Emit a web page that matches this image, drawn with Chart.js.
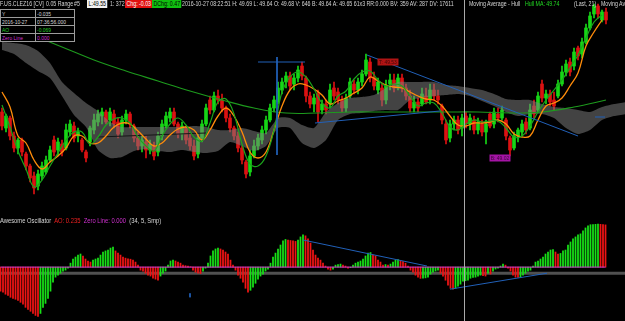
<!DOCTYPE html>
<html>
<head>
<meta charset="utf-8">
<script src="https://cdn.jsdelivr.net/npm/chart.js@4.4.1/dist/chart.umd.min.js"></script>
<style>
html, body { margin:0; padding:0; background:#000; width:625px; height:321px; overflow:hidden; }
#wrap { position:relative; width:625px; height:321px; font-family:"Liberation Sans", Arial, sans-serif; color:#d6d6d6; }
#price { position:absolute; left:0; top:0; }
#ao { position:absolute; left:0; top:215px; }
.t { position:absolute; top:0; white-space:nowrap; font-size:7px; line-height:8px; transform:scaleX(.75); transform-origin:0 0; }
.box { padding:0 2px; }
#cursor { position:absolute; left:464px; top:0; width:1px; height:321px; background:#a9a9a9; }
#info { position:absolute; left:0; top:9px; border-collapse:collapse; background:#000; }
#info td { border:1px solid #9c9c9c; height:7px; padding:0 1px; font-size:6.2px; line-height:7px; overflow:hidden; white-space:nowrap; }
#info td span { display:inline-block; transform:scaleX(.8); transform-origin:0 0; }
#aolabel { position:absolute; top:217px; left:0; white-space:nowrap; font-size:7.1px; line-height:8px; transform:scaleX(.82); transform-origin:0 0; }
</style>
</head>
<body>
<div id="wrap">
  <canvas id="price" width="625" height="215"></canvas>
  <canvas id="ao" width="625" height="106"></canvas>
  <div id="cursor"></div>

  <div class="t" style="left:0">F.US.CLEZ16 [CV]</div>
  <div class="t" style="left:46px">0.05 Range</div>
  <div class="t" style="left:74px">#5</div>
  <div class="t box" style="left:87px;background:#f2f2f2;color:#000">L:49.55</div>
  <div class="t" style="left:110px">1: 372</div>
  <div class="t box" style="left:125px;background:#e01010;color:#fff">Chg: -0.03</div>
  <div class="t box" style="left:152px;background:#10c010;color:#000">DChg: 0.47</div>
  <div class="t" style="left:182px">2016-10-27 08:22:51 H: 49.69 L: 49.64 O: 49.68 V: 646 B: 49.64 A: 49.65 61x3 RR:0.000 BV: 359 AV: 287 DV: 17611</div>
  <div class="t" style="left:469px">Moving Average - Hull</div>
  <div class="t" style="left:525px;color:#22dd22">Hull MA: 49.74</div>
  <div class="t" style="left:574px">(Last, 21)</div>
  <div class="t" style="left:601px">Moving Average</div>

  <table id="info">
    <tr><td style="width:24px"><span>Y</span></td><td style="width:27px"><span>-0.035</span></td></tr>
    <tr><td><span>2016-10-27</span></td><td><span>07:36:56.000</span></td></tr>
    <tr><td style="color:#22cc22"><span>AO</span></td><td style="color:#22cc22"><span>-0.069</span></td></tr>
    <tr><td style="color:#d030d0"><span>Zero Line</span></td><td style="color:#d030d0"><span>0.000</span></td></tr>
  </table>

  <div id="aolabel">Awesome Oscillator&nbsp; <span style="color:#ee2020">AO: 0.235</span>&nbsp; <span style="color:#d030d0">Zero Line: 0.000</span>&nbsp; (34, 5, Smp)</div>
</div>

<script>
// candles, one per 0.05 range bar
const candleOpen = [
  49.24,49.16,49.21,49.12,49.06,49.10,49.03,48.97,48.92,48.87,
  48.92,48.94,49.00,49.10,49.05,49.08,49.06,49.14,49.17,49.12,
  49.10,49.04,49.09,49.15,49.19,49.22,49.24,49.20,49.23,49.19,
  49.14,49.20,49.23,49.17,49.11,49.07,49.09,49.05,49.07,49.04,
  49.12,49.17,49.21,49.24,49.18,49.13,49.16,49.11,49.07,49.03,
  49.11,49.18,49.30,49.25,49.32,49.30,49.26,49.21,49.16,49.12,
  49.06,48.99,48.94,49.02,49.07,49.10,49.15,49.20,49.26,49.29,
  49.35,49.39,49.42,49.38,49.41,49.47,49.41,49.32,49.28,49.33,
  49.25,49.28,49.28,49.36,49.34,49.30,49.26,49.32,49.38,49.35,
  49.39,49.43,49.49,49.41,49.35,49.36,49.30,49.38,49.40,49.36,
  49.41,49.36,49.32,49.26,49.29,49.28,49.32,49.30,49.35,49.32,
  49.27,49.18,49.11,49.18,49.20,49.16,49.22,49.18,49.20,49.15,
  49.18,49.14,49.23,49.18,49.23,49.21,49.20,49.11,49.06,49.12,
  49.14,49.19,49.16,49.27,49.25,49.38,49.31,49.33,49.30,49.32,
  49.38,49.44,49.49,49.47,49.56,49.53,49.59,49.66,49.73,49.77,
  49.70,49.74
];
const candleHigh = [
  49.26,49.23,49.22,49.14,49.11,49.11,49.04,48.98,48.94,48.95,
  48.99,49.02,49.07,49.12,49.11,49.10,49.18,49.20,49.19,49.16,
  49.11,49.05,49.17,49.23,49.25,49.26,49.25,49.26,49.25,49.21,
  49.22,49.25,49.24,49.18,49.14,49.12,49.12,49.10,49.09,49.14,
  49.20,49.24,49.26,49.26,49.19,49.19,49.17,49.14,49.10,49.13,
  49.20,49.28,49.32,49.34,49.35,49.33,49.27,49.23,49.17,49.14,
  49.07,49.00,49.05,49.10,49.13,49.17,49.22,49.28,49.32,49.39,
  49.41,49.44,49.44,49.43,49.47,49.49,49.42,49.34,49.33,49.35,
  49.30,49.30,49.38,49.39,49.36,49.32,49.33,49.41,49.40,49.41,
  49.45,49.53,49.51,49.44,49.41,49.38,49.40,49.43,49.43,49.43,
  49.43,49.38,49.35,49.32,49.31,49.36,49.36,49.38,49.38,49.35,
  49.28,49.20,49.20,49.22,49.22,49.23,49.24,49.23,49.22,49.21,
  49.20,49.20,49.24,49.26,49.26,49.27,49.21,49.12,49.14,49.16,
  49.20,49.21,49.28,49.30,49.34,49.40,49.35,49.35,49.34,49.40,
  49.47,49.50,49.51,49.56,49.57,49.61,49.68,49.74,49.78,49.78,
  49.75,49.76
];
const candleLow = [
  49.15,49.14,49.10,49.04,49.03,49.02,48.95,48.89,48.83,48.85,
  48.90,48.93,48.99,49.02,49.02,49.02,49.05,49.12,49.09,49.09,
  49.04,48.99,49.07,49.13,49.17,49.18,49.18,49.17,49.16,49.11,
  49.12,49.18,49.16,49.09,49.05,49.04,49.01,49.03,49.00,49.02,
  49.10,49.16,49.19,49.17,49.11,49.10,49.08,49.05,49.00,49.01,
  49.09,49.17,49.23,49.24,49.28,49.24,49.19,49.14,49.10,49.04,
  48.98,48.91,48.92,49.01,49.05,49.08,49.13,49.19,49.24,49.28,
  49.33,49.36,49.35,49.35,49.39,49.40,49.29,49.26,49.24,49.19,
  49.23,49.23,49.26,49.30,49.28,49.24,49.24,49.31,49.33,49.33,
  49.37,49.42,49.39,49.35,49.33,49.27,49.28,49.35,49.34,49.35,
  49.34,49.30,49.24,49.24,49.24,49.27,49.28,49.28,49.30,49.28,
  49.18,49.08,49.09,49.15,49.13,49.12,49.16,49.15,49.13,49.13,
  49.12,49.08,49.16,49.16,49.19,49.20,49.10,49.02,49.05,49.09,
  49.12,49.13,49.15,49.21,49.24,49.29,49.28,49.27,49.25,49.31,
  49.37,49.42,49.42,49.45,49.50,49.51,49.58,49.65,49.71,49.71,
  49.69,49.68
];
const candleClose = [
  49.17,49.22,49.12,49.06,49.10,49.04,48.97,48.91,48.86,48.93,
  48.97,49.00,49.05,49.04,49.09,49.04,49.15,49.18,49.11,49.14,
  49.05,49.01,49.16,49.20,49.23,49.24,49.19,49.24,49.18,49.13,
  49.20,49.23,49.18,49.11,49.07,49.10,49.05,49.08,49.02,49.12,
  49.18,49.22,49.24,49.18,49.13,49.17,49.10,49.07,49.02,49.11,
  49.18,49.26,49.25,49.32,49.30,49.26,49.21,49.16,49.12,49.06,
  49.00,48.93,49.02,49.07,49.11,49.15,49.20,49.26,49.30,49.36,
  49.39,49.42,49.37,49.41,49.45,49.42,49.32,49.28,49.31,49.24,
  49.28,49.25,49.35,49.32,49.30,49.26,49.31,49.39,49.35,49.39,
  49.43,49.50,49.41,49.37,49.39,49.30,49.37,49.40,49.36,49.41,
  49.36,49.32,49.26,49.29,49.26,49.33,49.29,49.35,49.32,49.30,
  49.20,49.10,49.18,49.20,49.15,49.21,49.18,49.21,49.15,49.19,
  49.14,49.18,49.17,49.24,49.21,49.25,49.12,49.05,49.12,49.15,
  49.18,49.15,49.25,49.23,49.32,49.31,49.33,49.29,49.27,49.38,
  49.44,49.48,49.44,49.54,49.52,49.59,49.66,49.72,49.77,49.73,
  49.74,49.70
];

// moving averages, one value every 2 bars
const MA_STEP = 2;
const smaOrange = [
  49.340,49.265,49.120,49.085,49.000,48.955,48.990,49.020,49.060,49.120,
  49.120,49.085,49.085,49.120,49.165,49.185,49.180,49.145,49.105,49.070,
  49.085,49.125,49.155,49.165,49.150,49.100,49.150,49.220,49.260,49.220,
  49.140,49.040,49.010,49.040,49.150,49.270,49.350,49.380,49.375,49.355,
  49.325,49.280,49.295,49.310,49.335,49.360,49.415,49.395,49.375,49.365,
  49.360,49.340,49.320,49.305,49.300,49.270,49.220,49.175,49.170,49.185,
  49.185,49.190,49.200,49.180,49.130,49.115,49.120,49.200,49.270,49.285,
  49.310,49.370,49.435,49.570,49.640,49.700
];
const hullMa = [
  49.275,49.165,49.045,48.955,48.865,48.900,48.970,49.035,49.100,49.140,
  49.140,49.080,49.115,49.175,49.205,49.210,49.185,49.115,49.070,49.045,
  49.120,49.180,49.210,49.175,49.115,49.095,49.185,49.290,49.305,49.230,
  49.080,48.980,48.970,49.020,49.150,49.340,49.415,49.440,49.415,49.355,
  49.285,49.260,49.320,49.345,49.405,49.440,49.445,49.400,49.370,49.380,
  49.370,49.320,49.270,49.285,49.285,49.235,49.165,49.150,49.180,49.200,
  49.190,49.195,49.195,49.160,49.115,49.120,49.170,49.240,49.300,49.350,
  49.400,49.460,49.525,49.610,49.690,49.725
];
// slow average, one value every 8 bars starting at bar 7
const SLOW_START = 7, SLOW_STEP = 8;
const slowMa = [
  49.630,49.565,49.500,49.445,49.395,49.345,49.300,49.260,49.235,49.235,
  49.240,49.240,49.240,49.240,49.240,49.235,49.240,49.265,49.300
];
// cloud edges, one value every 3 bars (runs 4 bars past the last candle)
const CLOUD_STEP = 3;
const cloudTop = [
  49.590,49.585,49.575,49.545,49.485,49.390,49.335,49.285,49.245,49.190,
  49.165,49.165,49.165,49.165,49.165,49.165,49.170,49.165,49.150,49.150,
  49.160,49.145,49.135,49.210,49.210,49.175,49.160,49.240,49.285,49.310,
  49.315,49.325,49.360,49.390,49.390,49.390,49.390,49.375,49.370,49.360,
  49.350,49.330,49.305,49.300,49.300,49.280,49.265,49.260,49.250,49.240,
  49.265,49.280,49.290
];
const cloudBottom = [
  49.550,49.530,49.485,49.445,49.410,49.320,49.225,49.165,49.050,49.010,
  49.015,49.045,49.055,49.045,49.040,49.050,49.040,49.035,49.045,49.090,
  49.070,49.045,49.070,49.160,49.160,49.085,49.060,49.100,49.200,49.230,
  49.235,49.245,49.250,49.250,49.300,49.310,49.320,49.325,49.330,49.320,
  49.295,49.270,49.240,49.220,49.230,49.230,49.210,49.160,49.130,49.150,
  49.200,49.220,49.230
];
const baseLineBars = [24, 51];
const baseLine = [49.115, 49.135];

// drawn trend lines: [startBar, startPrice, endBar, endPrice]
const priceTrends = [
  [64, 49.49, 75.75, 49.49],
  [68.75, 49.515, 68.75, 49.025],
  [91.25, 49.525, 144, 49.12],
  [78.25, 49.185, 109.5, 49.245],
  [148.25, 49.215, 150.75, 49.215]
];
const priceTags = [
  { bar: 96.5, price: 49.49, text: 'T: 49.53', color: '#b01414' },
  { bar: 124.5, price: 49.01, text: 'B: 49.02', color: '#a414a4' }
];

// awesome oscillator (34, 5, simple)
const aoValues = [
  -0.134,-0.140,-0.151,-0.157,-0.168,-0.174,-0.179,-0.185,-0.196,-0.207,
  -0.224,-0.235,-0.246,-0.258,-0.269,-0.274,-0.258,-0.224,-0.202,-0.174,
  -0.134,-0.084,-0.056,-0.045,-0.034,-0.022,-0.017,-0.006,0.022,0.045,
  0.056,0.067,0.073,0.062,0.045,0.034,0.028,0.039,0.045,0.050,
  0.067,0.084,0.090,0.095,0.106,0.112,0.090,0.078,0.067,0.056,
  0.050,0.046,0.044,0.039,0.028,0.011,-0.017,-0.022,-0.034,-0.045,
  -0.050,-0.062,-0.067,-0.073,-0.050,-0.034,-0.022,0.011,0.034,0.039,
  0.034,0.028,0.022,0.011,0.008,0.006,0.002,-0.017,-0.028,-0.034,
  -0.036,-0.022,-0.006,0.022,0.062,0.090,0.101,0.106,0.101,0.095,
  0.084,0.073,0.039,0.011,-0.017,-0.045,-0.062,-0.084,-0.118,-0.140,
  -0.129,-0.112,-0.090,-0.067,-0.050,-0.039,-0.022,-0.011,0.022,0.056,
  0.078,0.101,0.123,0.146,0.154,0.151,0.148,0.146,0.143,0.151,
  0.168,0.179,0.174,0.157,0.134,0.095,0.067,0.050,0.039,0.022,
  0.006,-0.011,-0.017,-0.011,0.011,0.014,0.017,0.011,0.006,-0.006,
  -0.003,0.011,0.022,0.028,0.034,0.045,0.062,0.078,0.081,0.067,
  0.062,0.039,0.028,0.011,0.014,0.011,0.017,0.028,0.039,0.042,
  0.034,0.031,0.022,0.006,-0.017,-0.028,-0.045,-0.056,-0.063,-0.062,
  -0.060,-0.056,-0.039,-0.028,-0.022,-0.017,-0.034,-0.050,-0.073,-0.101,
  -0.118,-0.123,-0.118,-0.106,-0.095,-0.078,-0.076,-0.073,-0.062,-0.057,
  -0.056,-0.050,-0.045,-0.048,-0.050,-0.034,-0.039,-0.022,-0.011,-0.006,
  0.006,0.017,0.011,-0.006,-0.022,-0.045,-0.056,-0.058,-0.056,-0.045,
  -0.034,-0.022,-0.017,0.006,0.028,0.034,0.045,0.056,0.073,0.084,
  0.095,0.098,0.084,0.073,0.076,0.090,0.095,0.123,0.140,0.157,
  0.168,0.179,0.185,0.202,0.218,0.230,0.236,0.237,0.238,0.239,
  0.238,0.237,0.235
];
const aoGuide = -0.034;
const aoTrends = [
  [121, 0.151, 170.6, 0.006],
  [179.8, -0.123, 218.6, -0.034],
  [75.8, -0.146, 75.8, -0.168]
];

const GREEN = '#16d616', RED = '#dc1212', BLUE = '#2160b8';

function line(points, color, width, order, extra) {
  return Object.assign({
    type: 'line', data: points, borderColor: color, borderWidth: width,
    pointRadius: 0, fill: false, order: order
  }, extra || {});
}
function trendSets(list, order) {
  return list.map(t => line([{ x: t[0], y: t[1] }, { x: t[2], y: t[3] }], BLUE, 1, order));
}

const bars = candleOpen.map((_, i) => i);
const candleColors = bars.map(i => candleClose[i] >= candleOpen[i] ? GREEN : RED);

const tagPlugin = {
  id: 'tags',
  afterDatasetsDraw(chart) {
    const ctx = chart.ctx, xs = chart.scales.x, ys = chart.scales.y;
    ctx.save();
    ctx.font = '5px "Liberation Sans", Arial, sans-serif';
    ctx.textBaseline = 'middle';
    priceTags.forEach(t => {
      const x = xs.getPixelForValue(t.bar), y = ys.getPixelForValue(t.price);
      const w = 21, h = 7;
      ctx.fillStyle = t.color;
      ctx.fillRect(x - w / 2, y - h / 2, w, h);
      ctx.fillStyle = 'rgba(0,0,0,0.65)';
      ctx.textAlign = 'center';
      ctx.fillText(t.text, x, y + 0.5);
    });
    ctx.restore();
  }
};

const hidden = { display: false };

new Chart(document.getElementById('price'), {
  type: 'bar',
  data: {
    datasets: [
      ...trendSets(priceTrends, 0),
      line(hullMa.map((v, k) => ({ x: k * MA_STEP, y: v })), '#1ba51b', 1.2, 1, { tension: 0.4 }),
      line(smaOrange.map((v, k) => ({ x: k * MA_STEP, y: v })), '#ff8c0a', 1.3, 1, { tension: 0.4 }),
      line(slowMa.map((v, k) => ({ x: SLOW_START + k * SLOW_STEP, y: v })), '#1d9a1d', 1.1, 1, { tension: 0.4 }),
      line(baseLineBars.map((b, k) => ({ x: b, y: baseLine[k] })), '#161616', 1, 1),
      line(cloudTop.map((v, k) => ({ x: k * CLOUD_STEP, y: v })), 'rgba(0,0,0,0)', 0, 2,
        { fill: '+1', backgroundColor: 'rgba(128,128,128,0.52)', tension: 0.2 }),
      line(cloudBottom.map((v, k) => ({ x: k * CLOUD_STEP, y: v })), 'rgba(0,0,0,0)', 0, 2, { tension: 0.2 }),
      {
        data: bars.map(i => ({ x: i, y: [candleOpen[i], candleClose[i]] })),
        backgroundColor: candleColors, barThickness: 3, grouped: false, order: 3
      },
      {
        data: bars.map(i => ({ x: i, y: [candleLow[i], candleHigh[i]] })),
        backgroundColor: candleColors, barThickness: 1, grouped: false, order: 3
      }
    ]
  },
  options: {
    responsive: false, animation: false, devicePixelRatio: 1,
    layout: { padding: 0 },
    plugins: { legend: hidden, tooltip: { enabled: false } },
    scales: {
      x: { type: 'linear', min: -0.5, max: 155.75, offset: false, display: false },
      y: { min: 48.725, max: 49.80, display: false }
    }
  },
  plugins: [tagPlugin]
});

const aoBars = aoValues.map((_, j) => j);
const aoColors = aoValues.map((v, j) => (j > 0 && v > aoValues[j - 1]) ? '#17e017' : '#ee1414');

new Chart(document.getElementById('ao'), {
  type: 'bar',
  data: {
    datasets: [
      ...trendSets(aoTrends, 0),
      line([{ x: 0, y: 0 }, { x: aoValues.length - 1, y: 0 }], '#d23cd2', 1, 1),
      {
        data: aoBars.map(j => ({ x: j, y: aoValues[j] })),
        backgroundColor: aoColors, barThickness: 1.1, grouped: false, order: 2
      },
      line([{ x: -1, y: aoGuide }, { x: 251, y: aoGuide }], '#505050', 3, 3)
    ]
  },
  options: {
    responsive: false, animation: false, devicePixelRatio: 1,
    layout: { padding: 0 },
    plugins: { legend: hidden, tooltip: { enabled: false } },
    scales: {
      x: { type: 'linear', min: -0.2, max: 249.8, offset: false, display: false },
      y: { min: -0.30, max: 0.29, display: false }
    }
  }
});
</script>
</body>
</html>
